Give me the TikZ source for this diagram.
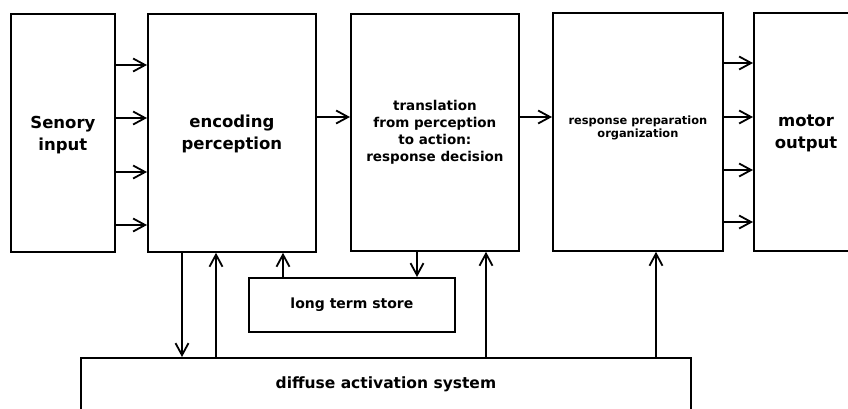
\documentclass[tikz,border=0pt]{standalone}
\usepackage{fontspec}
\setmainfont{DejaVu Sans}
\usetikzlibrary{arrows.meta,calc}
\begin{document}
\begin{tikzpicture}[x=1pt,y=-1pt,
  box/.style={draw,line width=1.8pt,rectangle,anchor=north west,inner sep=0pt},
  arr/.style={line width=1.8pt,-{Straight Barb[length=12pt,width=13pt]}},
  big/.style={font=\bfseries\fontsize{16.5}{22}\selectfont,align=center},
  small/.style={font=\bfseries\fontsize{13.5}{17}\selectfont,align=center},
  tiny/.style={font=\bfseries\fontsize{11.4}{13}\selectfont,align=center}]
\useasboundingbox (0,0) rectangle (848,408);
\clip (0,0) rectangle (848,408);

% main stages
\node[box,minimum width=104,minimum height=238] (sens) at (10,13) {};
\node[big] at ($(sens.center)+(0,2)$) {Senory\\input};
\node[box,minimum width=168,minimum height=238] (enc) at (147,13) {};
\node[big] at ($(enc.center)+(0,1)$) {encoding\\perception};
\node[box,minimum width=168,minimum height=237] (trans) at (350,13) {};
\node[small] at (trans.center) {translation\\from perception\\to action:\\response decision};
\node[box,minimum width=170,minimum height=238] (resp) at (552,12) {};
\node[tiny] at ($(resp.center)+(0,-4)$) {response preparation\\organization};
\node[box,minimum width=150,minimum height=238] (motor) at (753,12) {};
\node[big] at (806,133) {motor\\output};

% memory and activation
\node[box,minimum width=206,minimum height=54] (lts) at (248,277) {};
\node[small,font=\bfseries\fontsize{14}{17}\selectfont] at (lts.center) {long term store};
\node[box,minimum width=610,minimum height=52] (diff) at (80,357) {};
\node[small,font=\bfseries\fontsize{15.5}{17}\selectfont] at (diff.center) {diffuse activation system};

% horizontal flow
\foreach \y [count=\i] in {65,118,172,225}{
  \coordinate (l\i) at (0,\y);
  \draw[arr] (sens.east |- l\i) -- (enc.west |- l\i);
}
\coordinate (m1) at (0,117);
\draw[arr] (enc.east |- m1) -- (trans.west |- m1);
\draw[arr] (trans.east |- m1) -- (resp.west |- m1);
\foreach \y [count=\i] in {63,117,170,222}{
  \coordinate (r\i) at (0,\y);
  \draw[arr] (resp.east |- r\i) -- (motor.west |- r\i);
}

% vertical links
\coordinate (v1) at (182,0);
\coordinate (v2) at (216,0);
\coordinate (v3) at (283,0);
\coordinate (v4) at (417,0);
\coordinate (v5) at (486,0);
\coordinate (v6) at (656,0);
\draw[arr] (enc.south -| v1) -- (diff.north -| v1);
\draw[arr] (diff.north -| v2) -- (enc.south -| v2);
\draw[arr] (lts.north -| v3) -- (enc.south -| v3);
\draw[arr] (trans.south -| v4) -- (lts.north -| v4);
\draw[arr] (diff.north -| v5) -- (trans.south -| v5);
\draw[arr] (diff.north -| v6) -- (resp.south -| v6);
\end{tikzpicture}
\end{document}
